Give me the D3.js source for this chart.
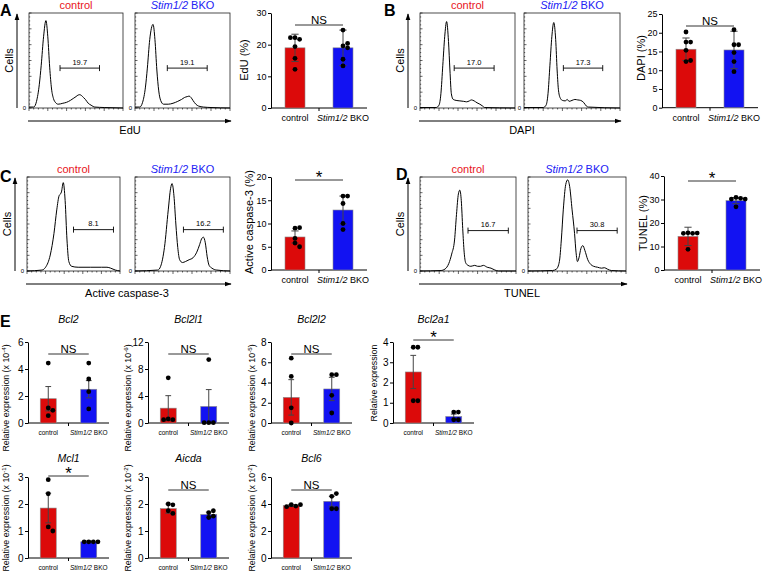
<!DOCTYPE html>
<html>
<head>
<meta charset="utf-8">
<script src="https://cdn.jsdelivr.net/npm/d3@7"></script>
<style>
  body{ margin: 0; background: #fff; }
  svg{ display: block; font-family: "Liberation Sans", Arial, sans-serif; }
  .ax path, .ax line{ stroke: #000; }
  .ax text{ fill: #000; }
</style>
</head>
<body>
<svg id="fig" width="763" height="573"></svg>
<script>
var groups = ["control", "Stim1/2 BKO"]

// flow histograms: [channel (% of axis), events (% of frame height)]
var eduHistCtrl = [[0,1],[5,1],[8,7],[11,25],[13,45],[15.5,75],[18,92],[20,75],[22,43],[24,20],[26,10],[28,6],[31,4],[36,5],[40,6],[44,8],[47,10],[50,12],[52,13.5],[54,14],[56,13],[58,11],[60,9],[63,5],[66,3],[70,1],[80,0.5],[100,0]]
var eduHistBko = [[0,1],[5,1],[8,6],[11,22],[13,42],[15.5,72],[19,88],[21,72],[23,40],[25,18],[27,8],[30,4],[35,4],[40,5],[45,7],[49,9],[52,11],[55,12],[57,12.5],[59,11],[61,8],[64,4],[67,2],[72,1],[80,0.5],[100,0]]
var dapiHistCtrl = [[0,0.5],[17,0.5],[20,3],[22,15],[24,45],[26,75],[28,91],[30,70],[31.5,40],[33,15],[35,9],[38,8],[42,7.5],[46,7],[49,6.5],[52,7.5],[54,8.5],[57,7.5],[60,5.5],[63,4],[66,2],[68,0.5],[100,0]]
var dapiHistBko = [[0,0.5],[20,0.5],[23,3],[25,15],[27,45],[29,75],[31,90],[33,72],[34.5,40],[36,18],[38,10],[40,8],[43,7.5],[45,9],[47,7],[50,8],[53,9],[56,8.5],[59,8],[62,6],[65,2],[67,1],[100,0]]
var casHistCtrl = [[0,0],[16,1],[20,4],[25,17],[29,40],[32,65],[34.5,80],[36,82],[37,84],[39,94],[41,75],[43,33],[45,10],[48,5],[55,4],[68,4],[80,4],[86,4],[90,3],[95,1],[100,0]]
var casHistBko = [[0,0],[24,1],[27,5],[31,25],[35,65],[37.5,88],[39,93],[41,80],[43,50],[45,25],[47,12],[50,9],[53,10],[57,12],[61,14],[65,20],[68,28],[70,34],[72,36],[74,30],[76,15],[78,6],[81,3],[86,1],[100,0]]
var tunelHistCtrl = [[0,0],[22,0.5],[26,2],[30,8],[33,18],[36,33],[38,60],[40,82],[41.5,86],[43,75],[44.5,45],[46,20],[47.5,9],[50,6],[53,5],[57,6],[60,5],[63,5],[66,6],[70,4],[74,3],[78,1],[82,0],[100,0]]
var tunelHistBko = [[0,0],[25,0.5],[29,2],[32,10],[34,33],[36,65],[38.5,92],[40.5,97],[42.5,90],[45,65],[47.5,40],[49,20],[50.5,10],[52,14],[54,24],[56,27],[58,22],[61,12],[64,7],[67,5],[71,4],[75,3],[78,3.5],[81,2],[85,0.5],[100,0]]

// gates: [from, to, height, label]
var eduGates = [[33, 75, 42, "19.7"], [34, 76, 42, "19.1"]]
var dapiGates = [[36, 78, 42, "17.0"], [41, 82, 42, "17.3"]]
var casGates = [[50, 93, 44, "8.1"], [51, 93, 44, "16.2"]]
var tunelGates = [[50, 92, 43, "16.7"], [50, 91, 43, "30.8"]]

// percent positive, mean and SD per group, plus single mice
var eduMean = [19.0, 19.0], eduSD = [4.3, 5.6]
var eduCtrl = [22.2, 21.7, 22.2, 19.4, 15.7, 12.2]
var eduBko = [24.6, 19.6, 20.4, 19.0, 15.4, 13.3]
var dapiMean = [15.6, 15.4], dapiSD = [3.0, 5.0]
var dapiCtrl = [20.2, 17.5, 17.5, 15.3, 12.3, 12.6]
var dapiBko = [20.8, 16.8, 16.8, 14.7, 12.3, 9.6]
var casMean = [7.1, 12.9], casSD = [1.3, 3.0]
var casCtrl = [9.0, 9.1, 6.8, 5.8, 5.0]
var casBko = [15.9, 15.9, 14.3, 10.0, 8.7]
var tunelMean = [14.3, 29.5], tunelSD = [3.9, 1.3]
var tunelCtrl = [15.8, 15.6, 15.6, 15.7, 8.8]
var tunelBko = [30.9, 30.5, 30.2, 30.2, 26.9]

// qPCR panel E
var genes = ["Bcl2", "Bcl2l1", "Bcl2l2", "Bcl2a1", "Mcl1", "Aicda", "Bcl6"]
var geneExp = ["-4", "-6", "-5", null, "-1", "-2", "-2"]
var geneTicks = [[0,2,4,6], [0,4,8,12], [0,2,4,6,8], [0,1,2,3,4], [0,1,2,3], [0,1,2,3], [0,2,4,6]]
var geneMean = [[1.8, 2.5], [2.2, 2.45], [2.53, 3.36], [2.52, 0.32], [1.85, 0.6], [1.83, 1.61], [3.88, 4.2]]
var geneSEM = [[0.9, 0.64], [1.85, 2.5], [1.75, 1.15], [0.82, 0.12], [0.55, 0.03], [0.17, 0.09], [0.07, 0.37]]
var geneCtrl = [[4.44, 1.11, 0.94, 0.54], [6.7, 0.6, 0.5, 0.5], [6.4, 4.6, 1.5, 0.0], [3.74, 3.74, 1.1, 1.1],
  [2.9, 2.38, 1.15, 1.0], [2.0, 1.97, 1.75, 1.65], [3.95, 3.85, 3.8, 3.95]]
var geneBko = [[4.44, 3.26, 2.32, 1.04], [9.4, 0.05, 0.05, 0.05], [4.77, 4.77, 2.73, 0.99], [0.54, 0.54, 0.16, 0.16],
  [0.6, 0.6, 0.6, 0.6], [1.5, 1.55, 1.68, 1.75], [4.57, 4.77, 3.65, 3.65]]
var geneSig = ["NS", "NS", "NS", "*", "*", "NS", "NS"]

var RED = "#dc0a0a", BLUE = "#1212f2", TXT = ["#e8141c", "#2222f5"]
var svg = d3.select("#fig")
svg.append("rect").attr("width", 763).attr("height", 573).attr("fill", "#fff")
svg.append("defs").append("marker").attr("id", "ah")
  .attr("viewBox", "0 0 10 10").attr("refX", 9).attr("refY", 5)
  .attr("markerWidth", 7).attr("markerHeight", 7).attr("markerUnits", "userSpaceOnUse")
  .attr("orient", "auto")
  .append("path").attr("d", "M0,1.5L10,5L0,8.5Z").attr("fill", "#000")

function grpText(t, name){
  if (name === groups[0]) { t.text(name); return }
  var p = name.split(" ")
  t.append("tspan").attr("font-style", "italic").text(p[0])
  t.append("tspan").text(" " + p[1])
}

function label(txt, x, y, size, opts){
  opts = opts || {}
  var t = svg.append("text").attr("x", x).attr("y", y).attr("font-size", size)
    .attr("text-anchor", opts.anchor || "middle").attr("fill", opts.fill || "#000")
  if (opts.bold) t.attr("font-weight", "bold")
  if (opts.rot) t.attr("transform", "rotate(-90," + x + "," + y + ")")
  t.text(txt)
  return t
}

function histo(fx0, fx1, fy0, fy1, pts, gate, gi){
  var x = d3.scaleLinear([0, 100], [fx0, fx1])
  var y = d3.scaleLinear([0, 100], [fy1, fy0])
  var g = svg.append("g")
  g.append("rect").attr("x", fx0).attr("y", fy0).attr("width", fx1 - fx0).attr("height", fy1 - fy0)
    .attr("fill", "none").attr("stroke", "#222").attr("stroke-width", 0.8)
  d3.range(0, 25).forEach(function(i){
    var yy = y(i / 24 * 100), len = i % 4 ? 1.2 : 2.5
    g.append("line").attr("x1", fx0).attr("x2", fx0 + len).attr("y1", yy).attr("y2", yy)
      .attr("stroke", "#000").attr("stroke-width", 0.6)
  })
  d3.range(0, 21).forEach(function(i){
    var xx = x(i * 5), len = i % 4 ? 1.5 : 3
    g.append("line").attr("x1", xx).attr("x2", xx).attr("y1", fy1).attr("y2", fy1 + len)
      .attr("stroke", "#000").attr("stroke-width", 0.6)
  })
  g.append("text").attr("x", fx0 - 3).attr("y", fy1 + 2).attr("font-size", 6)
    .attr("text-anchor", "end").text("0")
  g.append("path").datum(pts)
    .attr("d", d3.line().x(function(d){ return x(d[0]) }).y(function(d){ return y(d[1]) }).curve(d3.curveMonotoneX))
    .attr("fill", "none").attr("stroke", "#000").attr("stroke-width", 1)
  var gy = y(gate[2])
  g.append("path").attr("d", "M" + x(gate[0]) + "," + (gy - 3) + "V" + (gy + 3) + "M" + x(gate[0]) + "," + gy +
    "H" + x(gate[1]) + "M" + x(gate[1]) + "," + (gy - 3) + "V" + (gy + 3))
    .attr("fill", "none").attr("stroke", "#000").attr("stroke-width", 0.9)
  g.append("text").attr("x", (x(gate[0]) + x(gate[1])) / 2).attr("y", gy - 3.5)
    .attr("font-size", 7.5).attr("text-anchor", "middle").text(gate[3])
  var t = g.append("text").attr("x", (fx0 + fx1) / 2).attr("y", fy0 - 4).attr("font-size", 11)
    .attr("text-anchor", "middle").attr("fill", TXT[gi])
  grpText(t, groups[gi])
}

function flowRow(o){
  histo(o.f1[0], o.f1[1], o.top, o.bot, o.hist[0], o.gates[0], 0)
  histo(o.f2[0], o.f2[1], o.top, o.bot, o.hist[1], o.gates[1], 1)
  var ax = o.f1[0] - 12
  svg.append("line").attr("x1", ax).attr("x2", ax).attr("y1", o.bot).attr("y2", o.top + 1)
    .attr("stroke", "#000").attr("stroke-width", 1).attr("marker-end", "url(#ah)")
  label("Cells", o.f1[0] - 16, (o.top + o.bot) / 2, 11, {rot: true})
  var ay = o.bot + 13
  svg.append("line").attr("x1", o.f1[0] - 1).attr("x2", o.f2[1] + 1).attr("y1", ay).attr("y2", ay)
    .attr("stroke", "#000").attr("stroke-width", 1).attr("marker-end", "url(#ah)")
  label(o.xlab, o.xlabX, ay + 13, 11)
  label(o.letter, o.letterX, o.letterY, 16, {bold: true, anchor: "start"})
}

function swarm(vals, y, cx, r){
  var placed = [], step = 2 * r - 0.2
  return vals.map(function(v){
    var cy = y(v), px = cx
    for (var i = 0; i < 20; i++){
      var off = i === 0 ? 0 : (i % 2 ? 1 : -1) * Math.ceil(i / 2)
      px = cx + off * step
      var hit = placed.some(function(p){ return Math.hypot(p[0] - px, p[1] - cy) < 2 * r - 0.4 })
      if (!hit) break
    }
    placed.push([px, cy])
    return [px, cy]
  })
}

function barPlot(o){
  var xb = d3.scaleBand(groups, [o.x0, o.x1])
  var y = d3.scaleLinear([0, o.max], [o.y0, o.y1])
  var cx = function(gname){ return xb(gname) + xb.bandwidth() / 2 }
  var g = svg.append("g")
  var ya = g.append("g").attr("class", "ax").attr("transform", "translate(" + o.x0 + ",0)")
    .call(d3.axisLeft(y).tickValues(o.ticks).tickFormat(d3.format("d"))
      .tickSize(3).tickSizeOuter(0).tickPadding(1.5))
  ya.select(".domain").attr("stroke-width", 1)
  ya.selectAll("text").attr("font-size", o.tickFs).attr("font-family", null)
  g.append("line").attr("x1", o.x0).attr("x2", o.x1).attr("y1", o.y0).attr("y2", o.y0)
    .attr("stroke", "#000").attr("stroke-width", 1)
  g.append("line").attr("x1", (o.x0 + o.x1) / 2).attr("x2", (o.x0 + o.x1) / 2)
    .attr("y1", o.y0).attr("y2", o.y0 + 3).attr("stroke", "#000")
  groups.forEach(function(gname, i){
    var c = cx(gname), m = o.mean[i], e = o.err[i]
    g.append("rect").attr("x", c - o.bw / 2).attr("y", y(m)).attr("width", o.bw)
      .attr("height", o.y0 - y(m)).attr("fill", i ? BLUE : RED)
      .attr("stroke", "#8a8a8a").attr("stroke-width", 0.6)
    var lo = Math.max(0, m - e), hi = m + e, cap = o.bw * 0.18
    g.append("path").attr("d", "M" + c + "," + y(lo) + "V" + y(hi) + "M" + (c - cap) + "," + y(hi) + "H" + (c + cap) +
      "M" + (c - cap) + "," + y(lo) + "H" + (c + cap))
      .attr("fill", "none").attr("stroke", "#444").attr("stroke-width", 1)
    g.selectAll(null).data(swarm(o.pts[i], y, c, o.r)).enter().append("circle")
      .attr("cx", function(d){ return d[0] }).attr("cy", function(d){ return d[1] })
      .attr("r", o.r).attr("fill", "#000")
    var t = g.append("text").attr("x", c).attr("y", o.labY).attr("font-size", o.labFs)
      .attr("text-anchor", "middle")
    grpText(t, gname)
  })
  g.append("line").attr("x1", cx(groups[0])).attr("x2", cx(groups[1]))
    .attr("y1", o.sigY).attr("y2", o.sigY).attr("stroke", "#333").attr("stroke-width", 1)
  var star = o.sig === "*"
  g.append("text").attr("x", (cx(groups[0]) + cx(groups[1])) / 2)
    .attr("y", star ? o.sigY + 3 : o.sigY - 1.5).attr("font-size", star ? 17 : 11.5)
    .attr("text-anchor", "middle").text(o.sig)
  var yl = g.append("text").attr("x", o.ylX).attr("y", o.ylY).attr("font-size", o.ylFs)
    .attr("text-anchor", "middle").attr("transform", "rotate(-90," + o.ylX + "," + o.ylY + ")")
  if (o.exp){
    yl.append("tspan").text("Relative expression (x 10")
    yl.append("tspan").attr("dy", -3).attr("font-size", o.ylFs * 0.7).text(o.exp)
    yl.append("tspan").attr("dy", 3).text(")")
  } else yl.text(o.ylab)
  if (o.title) label(o.title, (o.x0 + o.x1) / 2, o.titleY, 10.5).attr("font-style", "italic")
}

// panels A-D: flow histograms
flowRow({f1: [29, 123], f2: [135, 230], top: 13, bot: 108, hist: [eduHistCtrl, eduHistBko], gates: eduGates,
  xlab: "EdU", xlabX: 130, letter: "A", letterX: 0, letterY: 16})
flowRow({f1: [420, 515], f2: [524, 620], top: 13, bot: 108, hist: [dapiHistCtrl, dapiHistBko], gates: dapiGates,
  xlab: "DAPI", xlabX: 522, letter: "B", letterX: 384, letterY: 16})
flowRow({f1: [27, 120], f2: [135, 230], top: 177, bot: 271, hist: [casHistCtrl, casHistBko], gates: casGates,
  xlab: "Active caspase-3", xlabX: 127, letter: "C", letterX: 0, letterY: 182})
flowRow({f1: [420, 516], f2: [528, 626], top: 177, bot: 271, hist: [tunelHistCtrl, tunelHistBko], gates: tunelGates,
  xlab: "TUNEL", xlabX: 522, letter: "D", letterX: 396, letterY: 180})

// panels A-D: summary bars
var barBase = {bw: 20, r: 2.4, tickFs: 9, labFs: 9, ylFs: 11}
barPlot(Object.assign({}, barBase, {x0: 271, x1: 367, y0: 108, y1: 13, max: 30, ticks: [0,10,20,30],
  mean: eduMean, err: eduSD, pts: [eduCtrl, eduBko], sig: "NS", sigY: 25, labY: 121,
  ylab: "EdU (%)", ylX: 248, ylY: 60}))
barPlot(Object.assign({}, barBase, {x0: 662, x1: 758, y0: 107.7, y1: 14, max: 25, ticks: [0,5,10,15,20,25],
  mean: dapiMean, err: dapiSD, pts: [dapiCtrl, dapiBko], sig: "NS", sigY: 26, labY: 121,
  ylab: "DAPI (%)", ylX: 645, ylY: 58}))
barPlot(Object.assign({}, barBase, {x0: 271, x1: 367, y0: 270, y1: 177, max: 20, ticks: [0,5,10,15,20],
  mean: casMean, err: casSD, pts: [casCtrl, casBko], sig: "*", sigY: 180, labY: 283,
  ylab: "Active caspase-3 (%)", ylX: 253, ylY: 222}))
barPlot(Object.assign({}, barBase, {x0: 664, x1: 760, y0: 270, y1: 176, max: 40, ticks: [0,10,20,30,40],
  mean: tunelMean, err: tunelSD, pts: [tunelCtrl, tunelBko], sig: "*", sigY: 181, labY: 283,
  ylab: "TUNEL (%)", ylX: 647, ylY: 223}))

// panel E
label("E", 0, 327, 16, {bold: true, anchor: "start"})
var colX = [28, 148, 271, 393], rowBase = [423, 558], sigYs = [354, 354, 354, 340, 476, 490, 490]
var ylXs = [9, 131, 255, 377]
genes.forEach(function(gene, k){
  var row = k < 4 ? 0 : 1, col = k < 4 ? k : k - 4
  var ticks = geneTicks[k]
  barPlot({x0: colX[col], x1: colX[col] + 81, y0: rowBase[row], y1: rowBase[row] - 81,
    max: ticks[ticks.length - 1], ticks: ticks, mean: geneMean[k], err: geneSEM[k],
    pts: [geneCtrl[k], geneBko[k]], sig: geneSig[k], sigY: sigYs[k],
    labY: rowBase[row] + 12, labFs: 6.5, tickFs: 10, bw: 16, r: 2.4,
    ylab: "Relative expression", exp: geneExp[k], ylFs: 8.8, ylX: ylXs[col],
    ylY: row ? 518 : (geneExp[k] ? 398 : 383),
    title: gene, titleY: row ? 462 : 323})
})
</script>
</body>
</html>
